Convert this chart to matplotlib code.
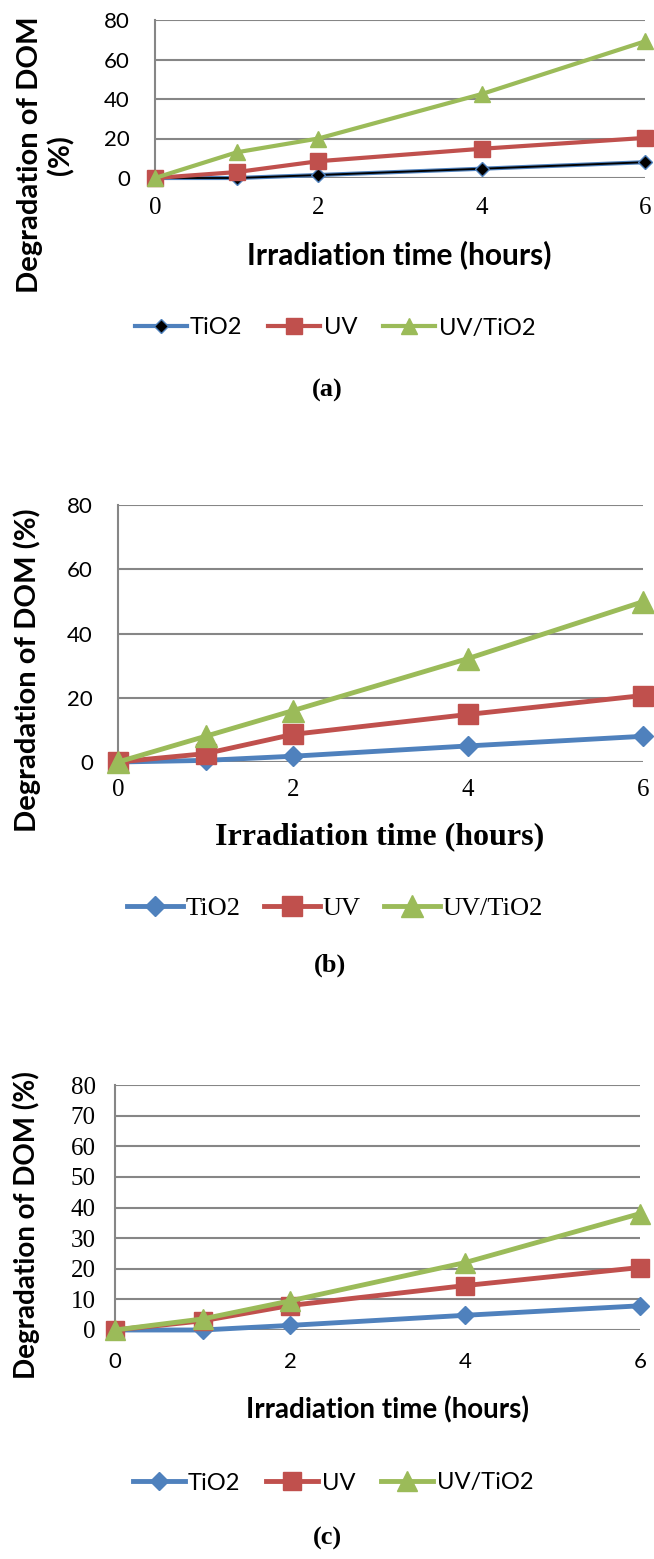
import matplotlib.pyplot as plt
from matplotlib.lines import Line2D

hours = [0, 1, 2, 4, 6]

# panel (a)
a_tio2 = [0, 0, 1.5, 4.7, 8]
a_uv = [0, 3, 8.5, 14.8, 20.3]
a_uvtio2 = [0, 13, 20, 42.5, 69.2]

# panel (b)
b_tio2 = [0, 0.5, 1.8, 5, 8]
b_uv = [0, 2.6, 8.6, 14.8, 20.7]
b_uvtio2 = [0, 8, 16, 32.2, 49.9]

# panel (c)
c_tio2 = [0, 0, 1.5, 4.8, 7.9]
c_uv = [0, 3, 8, 14.5, 20.4]
c_uvtio2 = [0, 3.6, 9.5, 22, 38]

series_names = ['TiO2', 'UV', 'UV/TiO2']
yticks_ab = [0, 20, 40, 60, 80]
yticks_c = [0, 10, 20, 30, 40, 50, 60, 70, 80]
xticks = [0, 2, 4, 6]

BLUE = '#4F81BD'
RED = '#C0504D'
GREEN = '#9BBB59'
GRID = '#868686'
SANS = 'Lato'
SERIF = 'Liberation Serif'

W, H = 654, 1559
fig = plt.figure(figsize=(W / 100, H / 100), dpi=100)


def add_ax(left, right, top, bottom):
    return fig.add_axes([left / W, 1 - bottom / H, (right - left) / W, (bottom - top) / H])


def style_ax(ax, yticks, yfont, xfont, ysize, xsize, ypad, xpad):
    ax.set_xlim(0, 6)
    ax.set_ylim(0, 80)
    ax.set_yticks(yticks)
    ax.set_xticks(xticks)
    ax.grid(axis='y', color=GRID, lw=1.5)
    ax.set_axisbelow(True)
    for s in ['top', 'right', 'bottom']:
        ax.spines[s].set_visible(False)
    ax.spines['left'].set_color(GRID)
    ax.spines['left'].set_linewidth(1.5)
    ax.tick_params(length=0)
    ax.tick_params(axis='y', pad=ypad)
    ax.tick_params(axis='x', pad=xpad)
    for t in ax.get_yticklabels():
        t.set_fontfamily(yfont)
        t.set_fontsize(ysize)
    for t in ax.get_xticklabels():
        t.set_fontfamily(xfont)
        t.set_fontsize(xsize)


def draw_series(ax, tio2, uv, uvtio2, lw, ms, black_diamond=False):
    if black_diamond:
        ax.plot(hours, tio2, color=BLUE, lw=lw, zorder=3, clip_on=False)
        ax.plot(hours, tio2, color='black', lw=lw * 0.45, marker='D', ms=ms * 0.62,
                mfc='black', mec=BLUE, mew=1, zorder=3, clip_on=False)
    else:
        ax.plot(hours, tio2, color=BLUE, lw=lw, marker='D', ms=ms * 0.7,
                zorder=3, clip_on=False)
    ax.plot(hours, uv, color=RED, lw=lw, marker='s', ms=ms, zorder=4, clip_on=False)
    ax.plot(hours, uvtio2, color=GREEN, lw=lw, marker='^', ms=ms * 1.1, zorder=5, clip_on=False)


def legend_handles(lw, ms, black_diamond=False):
    if black_diamond:
        h1 = Line2D([], [], color=BLUE, lw=lw, marker='D', ms=ms * 0.62, mfc='black', mec=BLUE)
    else:
        h1 = Line2D([], [], color=BLUE, lw=lw, marker='D', ms=ms * 0.7)
    h2 = Line2D([], [], color=RED, lw=lw, marker='s', ms=ms)
    h3 = Line2D([], [], color=GREEN, lw=lw, marker='^', ms=ms * 1.1)
    return [h1, h2, h3]


def px(x, y):
    return x / W, 1 - y / H


# ---- panel (a)
ax_a = add_ax(155, 645, 20, 178)
draw_series(ax_a, a_tio2, a_uv, a_uvtio2, lw=3, ms=11, black_diamond=True)
style_ax(ax_a, yticks_ab, SANS, SERIF, 16, 18, 18, 14)
fig.text(*px(46, 155), 'Degradation of DOM\n(%)', rotation=90, ha='center', va='center',
         fontsize=21, fontweight='bold', family=SANS, linespacing=1.2)
fig.text(*px(399, 255), 'Irradiation time (hours)', ha='center', va='center',
         fontsize=21.5, fontweight='bold', family=SANS)
fig.legend(handles=legend_handles(3, 11, True), labels=series_names, ncol=3,
           loc='center', bbox_to_anchor=px(335, 328), frameon=False,
           prop={'family': SANS, 'size': 17}, handlelength=2.2, handletextpad=0.15,
           columnspacing=1.1)
fig.text(*px(327, 390), '(a)', ha='center', va='center', fontsize=19,
         fontweight='bold', family=SERIF)

# ---- panel (b)
ax_b = add_ax(118, 643, 505, 762)
draw_series(ax_b, b_tio2, b_uv, b_uvtio2, lw=3.5, ms=14)
style_ax(ax_b, yticks_ab, SANS, SERIF, 16, 18, 18, 12)
fig.text(*px(27, 670), 'Degradation of DOM (%)', rotation=90, ha='center', va='center',
         fontsize=21, fontweight='bold', family=SANS)
fig.text(*px(380, 837), 'Irradiation time (hours)', ha='center', va='center',
         fontsize=23, fontweight='bold', family=SERIF)
fig.legend(handles=legend_handles(3.5, 14), labels=series_names, ncol=3,
           loc='center', bbox_to_anchor=px(335, 908), frameon=False,
           prop={'family': SERIF, 'size': 19}, handlelength=2.1, handletextpad=0.1,
           columnspacing=0.9)
fig.text(*px(330, 965), '(b)', ha='center', va='center', fontsize=19,
         fontweight='bold', family=SERIF)

# ---- panel (c)
ax_c = add_ax(115, 640, 1085, 1330)
draw_series(ax_c, c_tio2, c_uv, c_uvtio2, lw=3.5, ms=13)
style_ax(ax_c, yticks_c, SERIF, SANS, 18, 16, 14, 16)
fig.text(*px(26, 1225), 'Degradation of DOM (%)', rotation=90, ha='center', va='center',
         fontsize=20, fontweight='bold', family=SANS)
fig.text(*px(388, 1410), 'Irradiation time (hours)', ha='center', va='center',
         fontsize=20, fontweight='bold', family=SANS)
fig.legend(handles=legend_handles(3.5, 13), labels=series_names, ncol=3,
           loc='center', bbox_to_anchor=px(333, 1483), frameon=False,
           prop={'family': SANS, 'size': 17}, handlelength=2.2, handletextpad=0.15,
           columnspacing=1.1)
fig.text(*px(327, 1538), '(c)', ha='center', va='center', fontsize=19,
         fontweight='bold', family=SERIF)

fig.savefig('out.png', dpi=100)
